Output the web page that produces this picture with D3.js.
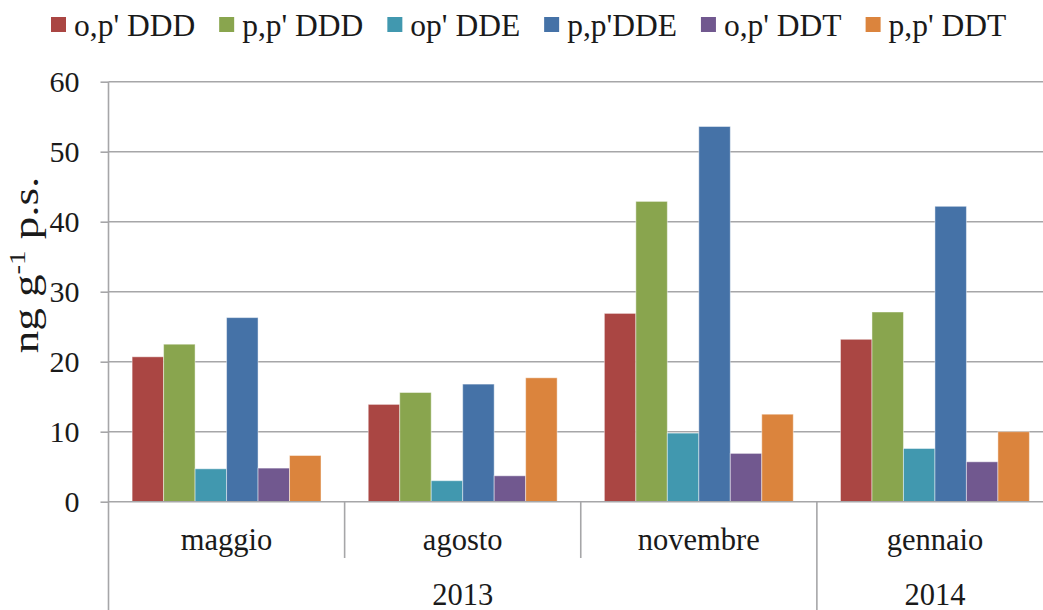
<!DOCTYPE html>
<html>
<head>
<meta charset="utf-8">
<script src="https://cdn.jsdelivr.net/npm/d3@7"></script>
<style>
  html, body { margin: 0; padding: 0; background: #fff; }
  svg { display: block; }
  text { font-family: "Liberation Serif", "Times New Roman", serif; fill: #1a1a1a; }
</style>
</head>
<body>
<svg id="chart" width="1043" height="610"></svg>
<script>
// Sampling months and the year each belongs to
const months = ["maggio", "agosto", "novembre", "gennaio"];
const years = [
  { label: "2013", from: 0, to: 3 },
  { label: "2014", from: 3, to: 4 }
];

// Compounds (series) and their colours
const compounds = ["o,p' DDD", "p,p' DDD", "op' DDE", "p,p'DDE", "o,p' DDT", "p,p' DDT"];
const colors = ["#AA4643", "#89A54E", "#4198AF", "#4572A7", "#71588F", "#DB843D"];

// Concentrations (ng g-1 p.s.) per compound, one value per month
const opDDD = [20.7, 13.9, 26.9, 23.2];
const ppDDD = [22.5, 15.6, 42.9, 27.1];
const opDDE = [4.7, 3.0, 9.8, 7.6];
const ppDDE = [26.3, 16.8, 53.6, 42.2];
const opDDT = [4.8, 3.7, 6.9, 5.7];
const ppDDT = [6.6, 17.7, 12.5, 10.0];
const seriesValues = [opDDD, ppDDD, opDDE, ppDDE, opDDT, ppDDT];

// Y axis ticks
const yTicks = [0, 10, 20, 30, 40, 50, 60];

const svg = d3.select("#chart");
const plotLeft = 108.5, plotRight = 1053, plotTop = 81.7, plotBottom = 501.7;
const gridColor = "#a6a6a8";

const y = d3.scaleLinear().domain([0, 60]).range([plotBottom, plotTop]);
const x0 = d3.scaleBand().domain(months).range([plotLeft, plotRight]).padding(0);
const x1 = d3.scaleBand().domain(compounds).range([0, x0.bandwidth()])
  .paddingInner(0).paddingOuter(0.75);
const color = d3.scaleOrdinal().domain(compounds).range(colors);

// Horizontal gridlines
svg.append("g")
  .selectAll("line")
  .data(yTicks.filter(t => t > 0))
  .join("line")
  .attr("x1", plotLeft).attr("x2", plotRight)
  .attr("y1", d => y(d)).attr("y2", d => y(d))
  .attr("stroke", gridColor).attr("stroke-width", 1.6);

// Y axis with outward ticks
const yAxis = svg.append("g")
  .attr("transform", `translate(${plotLeft},0)`)
  .call(d3.axisLeft(y).tickValues(yTicks).tickSize(8).tickPadding(21).tickFormat(d3.format("d")));
yAxis.select(".domain").remove();
yAxis.selectAll(".tick line").attr("stroke", gridColor).attr("stroke-width", 1.6);
yAxis.selectAll(".tick text")
  .attr("font-size", 30).attr("font-family", "Liberation Serif, serif")
  .attr("fill", "#1a1a1a").attr("dy", "0.34em");
svg.append("line")
  .attr("x1", plotLeft).attr("x2", plotLeft).attr("y1", plotTop).attr("y2", 610)
  .attr("stroke", gridColor).attr("stroke-width", 1.6);

// Bars
const groups = svg.append("g")
  .selectAll("g")
  .data(months.map((m, i) => ({ month: m, i })))
  .join("g")
  .attr("transform", d => `translate(${x0(d.month)},0)`);

groups.selectAll("rect")
  .data(d => compounds.map((c, k) => ({ c, v: seriesValues[k][d.i] })))
  .join("rect")
  .attr("x", d => x1(d.c))
  .attr("width", x1.bandwidth())
  .attr("y", d => y(d.v))
  .attr("height", d => y(0) - y(d.v))
  .attr("fill", d => color(d.c))
  .attr("stroke", "rgba(255,255,255,0.45)")
  .attr("stroke-width", 1);

// Category axis baseline
svg.append("line")
  .attr("x1", plotLeft).attr("x2", plotRight).attr("y1", plotBottom).attr("y2", plotBottom)
  .attr("stroke", gridColor).attr("stroke-width", 1.6);

// Month dividers (short) and year dividers (long)
const yearEdges = new Set(years.map(yr => yr.from));
svg.append("g")
  .selectAll("line")
  .data(months.map((m, i) => i).filter(i => i > 0))
  .join("line")
  .attr("x1", i => x0(months[i])).attr("x2", i => x0(months[i]))
  .attr("y1", plotBottom)
  .attr("y2", i => yearEdges.has(i) ? 610 : 558)
  .attr("stroke", gridColor).attr("stroke-width", 1.6);

// Month labels
svg.append("g")
  .selectAll("text")
  .data(months)
  .join("text")
  .attr("x", d => x0(d) + x0.bandwidth() / 2)
  .attr("y", 550)
  .attr("text-anchor", "middle")
  .attr("font-size", 30.5)
  .text(d => d);

// Year labels
svg.append("g")
  .selectAll("text")
  .data(years)
  .join("text")
  .attr("x", d => (x0(months[d.from]) + x0(months[d.to - 1]) + x0.bandwidth()) / 2)
  .attr("y", 605)
  .attr("text-anchor", "middle")
  .attr("font-size", 30.5)
  .text(d => d.label);

// Y axis title with superscript, stretched along its length
const title = svg.append("text")
  .attr("transform", "translate(38,265) rotate(-90) scale(1.25,1)")
  .attr("text-anchor", "middle")
  .attr("font-size", 36);
title.append("tspan").text("ng g");
title.append("tspan").attr("font-size", 23).attr("dy", -13).text("-1");
title.append("tspan").attr("dy", 13).text(" p.s.");

// Legend laid out left to right
const legend = svg.append("g");
let lx = 51;
compounds.forEach((c, k) => {
  const g = legend.append("g").attr("transform", `translate(${lx},0)`);
  g.append("rect").attr("x", 0).attr("y", 17).attr("width", 15).attr("height", 15)
    .attr("fill", colors[k]);
  const t = g.append("text").attr("x", 23).attr("y", 36).attr("font-size", 31.5).text(c);
  lx += 23 + t.node().getComputedTextLength() + 24;
});
</script>
</body>
</html>
